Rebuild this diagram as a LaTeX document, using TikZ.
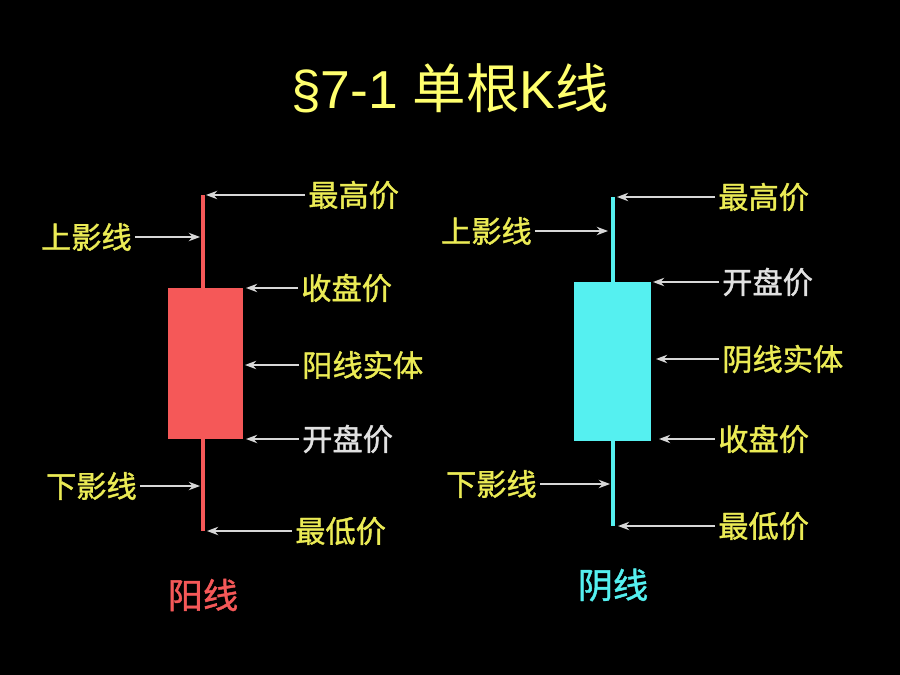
\documentclass[tikz,border=0pt]{standalone}
\usepackage{fontspec}
\setmainfont{Liberation Sans}
\newfontfamily\cjk{Noto Sans CJK SC}
\newfontfamily\cjkb[FakeBold=1.2]{Noto Sans CJK SC}
\usetikzlibrary{arrows.meta}
\definecolor{ktitle}{RGB}{255,255,110}
\definecolor{klabel}{RGB}{235,235,85}
\definecolor{kwhite}{RGB}{225,225,225}
\definecolor{kred}{RGB}{245,88,88}
\definecolor{kcyan}{RGB}{85,240,240}
\definecolor{karrow}{RGB}{215,215,215}

\begin{document}
\begin{tikzpicture}[x=0.025cm,y=-0.025cm,
    lbl/.style={text=klabel,font=\cjkb\fontsize{21.5}{21.5}\selectfont,inner sep=0pt},
    ptr/.style={draw=karrow,line width=1pt,shorten <=2pt,-{Stealth[length=8pt,width=6pt]}}]
      \path[use as bounding box,fill=black] (0,0) rectangle (900,675);
      \node[text=ktitle,font=\fontsize{38}{38}\selectfont] (title) at (450,88) {§7-1 {\cjk 单根}K{\cjk 线}};

      % yang line (left)
      \fill[kred] (201,195) rectangle (205,531);
      \fill[kred] (168,288) rectangle (243,439);
      \coordinate (lhigh) at (206,195);
      \coordinate (lup) at (200,237);
      \coordinate (lclose) at (246,288);
      \coordinate (lbody) at (245,365);
      \coordinate (lopen) at (246,439);
      \coordinate (ldown) at (200,486);
      \coordinate (llow) at (207,531);
      \node[lbl,anchor=west] (lhightxt) at (308,195) {最高价};
      \node[lbl,anchor=east] (luptxt) at (132,237) {上影线};
      \node[lbl,anchor=west] (lclosetxt) at (301,288) {收盘价};
      \node[lbl,anchor=west] (lbodytxt) at (302,365) {阳线实体};
      \node[lbl,anchor=west,text=kwhite] (lopentxt) at (302,439) {开盘价};
      \node[lbl,anchor=east] (ldowntxt) at (137,486) {下影线};
      \node[lbl,anchor=west] (llowtxt) at (295,531) {最低价};
      \draw[ptr] (lhightxt.west) -- (lhigh);
      \draw[ptr] (luptxt.east) -- (lup);
      \draw[ptr] (lclosetxt.west) -- (lclose);
      \draw[ptr] (lbodytxt.west) -- (lbody);
      \draw[ptr] (lopentxt.west) -- (lopen);
      \draw[ptr] (ldowntxt.east) -- (ldown);
      \draw[ptr] (llowtxt.west) -- (llow);
      \node[text=kred,font=\cjkb\fontsize{25}{25}\selectfont] (yang) at (203,595) {阳线};

      % yin line (right)
      \fill[kcyan] (611,197) rectangle (615,526);
      \fill[kcyan] (574,282) rectangle (651,441);
      \coordinate (rhigh) at (617,197);
      \coordinate (rup) at (608,231);
      \coordinate (ropen) at (653,282);
      \coordinate (rbody) at (656,359);
      \coordinate (rclose) at (659,439);
      \coordinate (rdown) at (610,484);
      \coordinate (rlow) at (618,526);
      \node[lbl,anchor=west] (rhightxt) at (718,197) {最高价};
      \node[lbl,anchor=east] (ruptxt) at (532,231) {上影线};
      \node[lbl,anchor=west,text=kwhite] (ropentxt) at (722,282) {开盘价};
      \node[lbl,anchor=west] (rbodytxt) at (722,359) {阴线实体};
      \node[lbl,anchor=west] (rclosetxt) at (718,439) {收盘价};
      \node[lbl,anchor=east] (rdowntxt) at (537,484) {下影线};
      \node[lbl,anchor=west] (rlowtxt) at (718,526) {最低价};
      \draw[ptr] (rhightxt.west) -- (rhigh);
      \draw[ptr] (ruptxt.east) -- (rup);
      \draw[ptr] (ropentxt.west) -- (ropen);
      \draw[ptr] (rbodytxt.west) -- (rbody);
      \draw[ptr] (rclosetxt.west) -- (rclose);
      \draw[ptr] (rdowntxt.east) -- (rdown);
      \draw[ptr] (rlowtxt.west) -- (rlow);
      \node[text=kcyan,font=\cjkb\fontsize{25}{25}\selectfont] (yin) at (613,585) {阴线};
\end{tikzpicture}
\end{document}
